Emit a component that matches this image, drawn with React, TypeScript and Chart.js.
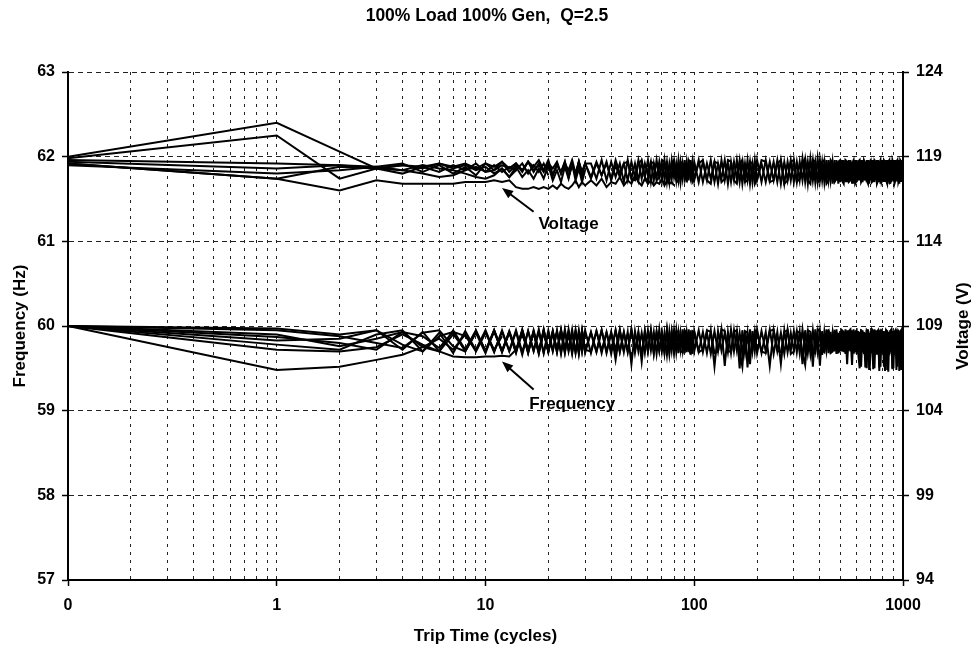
import React, { useEffect, useRef } from 'react';
import { Chart, registerables } from 'chart.js';

Chart.register(...registerables);

// ---------- text ----------
const chartTitle = '100% Load 100% Gen,  Q=2.5';
const xAxisTitle = 'Trip Time (cycles)';
const yLeftTitle = 'Frequency (Hz)';
const yRightTitle = 'Voltage (V)';

// ---------- axes / ticks ----------
const xMajorTicks = [0.1, 1, 10, 100, 1000];
const xTickLabels = ['0', '1', '10', '100', '1000'];
const xMinorMultipliers = [2, 3, 4, 5, 6, 7, 8, 9];
const freqRange = [57, 63];
const freqStep = 1;
const voltRange = [94, 124];
const voltStep = 5;

// ---------- sample times (cycles) ----------
const cycles = [
  0.1,
  1, 2, 3, 4, 5, 6, 7, 8, 9, 10, 11, 12, 13, 14, 15, 16, 17, 18, 19, 20,
  21, 22, 23, 24, 25, 26, 27, 28, 29, 30,
  32, 34, 36, 38, 40, 42, 44, 46, 48, 50, 52, 54, 56, 58, 60, 62, 64, 66, 68, 70,
  72, 74, 76, 78, 80, 82, 84, 86, 88, 90, 92, 94, 96, 98, 100,
  105, 110, 115, 120, 125, 130, 135, 140, 145, 150, 155, 160, 165, 170, 175, 180, 185, 190, 195, 200,
  210, 220, 230, 240, 250, 260, 270, 280, 290, 300,
  310, 320, 330, 340, 350, 360, 370, 380, 390, 400,
  410, 420, 430, 440, 450, 460, 470, 480, 490, 500,
  510, 520, 530, 540, 550, 560, 570, 580, 590, 600,
  610, 620, 630, 640, 650, 660, 670, 680, 690, 700,
  710, 720, 730, 740, 750, 760, 770, 780, 790, 800,
  810, 820, 830, 840, 850, 860, 870, 880, 890, 900,
  910, 920, 930, 940, 950, 960, 970, 980, 990, 1000,
];

// ---------- frequency runs (Hz) ----------
const freqRun1 = [
  60.0,
  59.97, 59.90, 59.95, 59.72, 59.93, 59.70, 59.95, 59.72, 59.94, 59.70,
  59.95, 59.71, 59.93, 59.68, 59.96, 59.72, 59.92, 59.67, 59.95, 59.70,
  59.93, 59.69, 59.96, 59.73, 59.90, 59.67, 59.95, 59.70, 59.94, 59.68,
  59.93, 59.70, 59.95, 59.68, 59.92, 59.72, 59.96, 59.69, 59.93, 59.55,
  59.94, 59.70, 59.92, 59.68, 59.95, 59.71, 59.93, 59.67, 59.96, 59.70,
  59.92, 59.66, 59.94, 59.71, 59.95, 59.69, 59.93, 59.72, 59.96, 59.68,
  59.92, 59.70, 59.95, 59.67, 59.94,
  59.70, 59.93, 59.68, 59.95, 59.52, 59.94, 59.71, 59.92, 59.69, 59.96,
  59.70, 59.93, 59.50, 59.95, 59.68, 59.92, 59.55, 59.94, 59.70, 59.96,
  59.68, 59.93, 59.53, 59.95, 59.70, 59.92, 59.67, 59.96, 59.71, 59.94,
  59.69, 59.93, 59.55, 59.95, 59.68, 59.92, 59.52, 59.96, 59.70, 59.94,
  59.66, 59.93, 59.71, 59.95, 59.69, 59.92, 59.70, 59.96, 59.68, 59.94,
  59.70, 59.93, 59.67, 59.95, 59.71, 59.92, 59.54, 59.96, 59.69, 59.94,
  59.70, 59.93, 59.52, 59.95, 59.68, 59.92, 59.50, 59.96, 59.48, 59.94,
  59.68, 59.93, 59.50, 59.95, 59.66, 59.92, 59.47, 59.96, 59.69, 59.94,
  59.52, 59.93, 59.67, 59.95, 59.46, 59.92, 59.70, 59.96, 59.50, 59.94,
  59.66, 59.93, 59.48, 59.95, 59.68, 59.92, 59.52, 59.96, 59.49, 59.93,
];
const freqRun2 = [
  60.0,
  59.78, 59.72, 59.90, 59.95, 59.70, 59.92, 59.68, 59.94, 59.71, 59.93,
  59.69, 59.95, 59.70, 59.93, 59.66, 59.94, 59.71, 59.96, 59.68, 59.92,
  59.70, 59.95, 59.67, 59.93, 59.72, 59.96, 59.69, 59.92, 59.70, 59.95,
  59.68, 59.94, 59.71, 59.92, 59.67, 59.95, 59.70, 59.93, 59.69, 59.96,
  59.72, 59.92, 59.66, 59.94, 59.70, 59.95, 59.68, 59.93, 59.71, 59.92,
  59.69, 59.96, 59.67, 59.93, 59.70, 59.95, 59.68, 59.92, 59.71, 59.94,
  59.69, 59.96, 59.66, 59.93, 59.70,
  59.95, 59.69, 59.92, 59.67, 59.94, 59.70, 59.96, 59.53, 59.93, 59.68,
  59.95, 59.71, 59.92, 59.67, 59.94, 59.51, 59.96, 59.70, 59.93, 59.68,
  59.94, 59.70, 59.96, 59.67, 59.93, 59.55, 59.95, 59.69, 59.92, 59.71,
  59.94, 59.68, 59.96, 59.70, 59.93, 59.67, 59.95, 59.71, 59.92, 59.53,
  59.94, 59.69, 59.96, 59.68, 59.93, 59.70, 59.95, 59.67, 59.92, 59.71,
  59.94, 59.69, 59.96, 59.55, 59.93, 59.70, 59.95, 59.68, 59.92, 59.67,
  59.94, 59.70, 59.96, 59.69, 59.93, 59.51, 59.95, 59.68, 59.92, 59.70,
  59.94, 59.49, 59.96, 59.67, 59.93, 59.70, 59.95, 59.52, 59.92, 59.68,
  59.94, 59.69, 59.96, 59.48, 59.93, 59.70, 59.95, 59.67, 59.92, 59.50,
  59.94, 59.68, 59.96, 59.70, 59.93, 59.47, 59.95, 59.69, 59.92, 59.68,
];
const freqRun3 = [
  60.0,
  59.87, 59.80, 59.72, 59.93, 59.75, 59.70, 59.90, 59.72, 59.95, 59.70,
  59.93, 59.70, 59.94, 59.72, 59.95, 59.68, 59.93, 59.70, 59.96, 59.69,
  59.92, 59.71, 59.95, 59.68, 59.93, 59.70, 59.94, 59.67, 59.95, 59.72,
  59.70, 59.94, 59.68, 59.93, 59.71, 59.95, 59.69, 59.92, 59.70, 59.96,
  59.68, 59.93, 59.58, 59.94, 59.70, 59.95, 59.67, 59.93, 59.71, 59.92,
  59.68, 59.95, 59.70, 59.93, 59.69,
  59.93, 59.94, 59.70, 59.69, 59.95, 59.92, 59.71, 59.68, 59.94, 59.93,
  59.69, 59.72, 59.95, 59.93, 59.68, 59.70, 59.96, 59.94, 59.71, 59.69,
  59.93, 59.95, 59.70, 59.52, 59.94, 59.92, 59.68, 59.71, 59.95, 59.93,
  59.70, 59.68, 59.94, 59.96, 59.71, 59.69, 59.93, 59.95, 59.67, 59.70,
  59.94, 59.92, 59.69, 59.54, 59.95, 59.93, 59.70, 59.68, 59.96, 59.94,
  59.71, 59.69, 59.93, 59.95, 59.68, 59.70, 59.94, 59.92, 59.69, 59.71,
  59.95, 59.93, 59.70, 59.68, 59.94, 59.96, 59.71, 59.69, 59.93, 59.95,
  59.68, 59.50, 59.94, 59.92, 59.69, 59.71, 59.95, 59.93, 59.48, 59.68,
  59.96, 59.94, 59.70, 59.69, 59.93, 59.95, 59.51, 59.70, 59.94, 59.92,
  59.69, 59.47, 59.95, 59.93, 59.70, 59.68, 59.94, 59.96, 59.49, 59.69,
  59.93, 59.95, 59.68, 59.52, 59.94, 59.92, 59.70, 59.48, 59.95, 59.93,
];
const freqRun4 = [
  60.0,
  59.83, 59.85, 59.95, 59.78, 59.70, 59.88, 59.93, 59.70, 59.92, 59.68,
  59.95, 59.70, 59.92, 59.69, 59.94, 59.71, 59.93, 59.68, 59.95, 59.70,
  59.94, 59.72, 59.92, 59.69, 59.96, 59.70, 59.93, 59.68, 59.94, 59.71,
  59.92, 59.69, 59.95, 59.70, 59.93, 59.60, 59.94, 59.70,
];
const freqRun5 = [
  60.0,
  59.48, 59.52, 59.60, 59.66, 59.75, 59.85, 59.72, 59.90, 59.70, 59.92,
  59.72, 59.88,
];
const freqRun6 = [
  60.0,
  59.72, 59.70, 59.75, 59.90, 59.78, 59.70, 59.64, 59.63, 59.63, 59.64,
  59.64, 59.65, 59.64, 59.72, 59.90, 59.70, 59.92, 59.69, 59.93, 59.70,
];
const freqRun7 = [
  60.0,
  59.95, 59.88, 59.80, 59.74, 59.92, 59.95, 59.76, 59.70, 59.93, 59.71,
  59.95, 59.69, 59.93, 59.70, 59.94, 59.68, 59.95, 59.71, 59.92, 59.70,
  59.94, 59.69, 59.95, 59.70,
];
const freqRun8 = [
  60.0,
  59.90, 59.76, 59.85, 59.93, 59.88, 59.74, 59.93, 59.88, 59.72, 59.95,
  59.70, 59.93, 59.71, 59.95, 59.69, 59.94, 59.70, 59.93, 59.68, 59.95,
  59.71, 59.93, 59.69, 59.96, 59.70, 59.92, 59.68, 59.95, 59.70, 59.93,
];

// ---------- voltage runs (V) ----------
const voltRun1 = [
  119.0,
  121.0, 119.3, 118.3, 118.5, 118.3, 118.6, 118.4, 118.6, 118.3, 118.6,
  118.4, 118.7, 118.3, 118.6, 118.2, 118.7, 118.4, 118.8, 118.2, 118.6,
  118.3, 118.7, 118.0, 118.6, 118.2, 118.8, 118.0, 118.7, 118.1, 118.6,
  117.8, 118.7, 117.9, 118.6, 117.7, 118.8, 118.0, 118.6, 117.6, 118.7,
  117.8, 118.8, 117.7, 118.6, 117.9, 118.7, 117.6, 118.8, 117.8, 118.6,
  117.7, 118.7, 117.5, 118.8, 117.8, 118.6, 117.6, 118.7, 117.7, 118.8,
  117.5, 118.6, 117.8, 118.7, 117.6,
  118.8, 117.5, 118.6, 117.7, 118.7, 117.4, 118.8, 117.6, 118.6, 117.5,
  118.7, 117.7, 118.8, 117.4, 118.6, 117.6, 118.7, 117.5, 118.8, 117.6,
  118.6, 117.5, 118.7, 117.6, 118.8, 117.4, 118.7, 117.6, 118.8, 117.5,
  118.7, 117.6, 118.9, 117.5, 118.7, 117.7, 118.8, 117.5, 118.9, 117.6,
  118.7, 117.5, 118.8, 117.6, 118.7, 117.4, 118.8, 117.6, 118.7, 117.5,
  118.8, 117.6, 118.7, 117.5, 118.8, 117.6, 118.7, 117.4, 118.8, 117.5,
  118.7, 117.6, 118.8, 117.5, 118.7, 117.6, 118.8, 117.4, 118.7, 117.6,
  118.8, 117.5, 118.7, 117.6, 118.8, 117.5, 118.7, 117.4, 118.8, 117.6,
  118.7, 117.5, 118.8, 117.6, 118.7, 117.4, 118.8, 117.5, 118.7, 117.6,
  118.8, 117.5, 118.7, 117.6, 118.8, 117.4, 118.7, 117.5, 118.8, 117.6,
];
const voltRun2 = [
  118.9,
  120.25, 117.7, 118.3, 118.0, 118.4, 118.1, 118.5, 118.2, 118.6, 118.1,
  118.2, 118.5, 118.3, 118.6, 118.1, 118.7, 118.2, 118.5, 118.1, 118.7,
  117.9, 118.6, 118.0, 118.7, 117.8, 118.5, 117.9, 118.7, 117.8, 118.6,
  118.6, 117.7, 118.8, 117.6, 118.7, 117.8, 118.6, 117.5, 118.8, 117.7,
  118.6, 117.6, 118.7, 117.8, 118.8, 117.5, 118.6, 117.7, 118.7, 117.6,
  118.8, 117.5, 118.6, 117.7, 118.7, 117.6, 118.8, 117.5, 118.6, 117.7,
  118.7, 117.6, 118.8, 117.5, 118.7,
  117.5, 118.7, 117.6, 118.8, 117.5, 118.6, 117.7, 118.8, 117.4, 118.7,
  117.6, 118.8, 117.5, 118.7, 117.6, 118.8, 117.4, 118.6, 117.6, 118.8,
  117.5, 118.8, 117.6, 118.7, 117.5, 118.8, 117.4, 118.7, 117.6, 118.8,
  117.5, 118.7, 117.6, 118.8, 117.4, 118.9, 117.6, 118.7, 117.5, 118.8,
  117.6, 118.7, 117.5, 118.8, 117.6, 118.7, 117.5, 118.8, 117.4, 118.7,
  117.6, 118.8, 117.5, 118.7, 117.6, 118.8, 117.4, 118.7, 117.5, 118.8,
  117.6, 118.7, 117.5, 118.8, 117.6, 118.7, 117.5, 118.8, 117.4, 118.7,
  117.6, 118.8, 117.5, 118.7, 117.6, 118.8, 117.5, 118.7, 117.6, 118.8,
  117.5, 118.7, 117.6, 118.8, 117.5, 118.7, 117.4, 118.8, 117.6, 118.7,
  117.5, 118.8, 117.6, 118.7, 117.5, 118.8, 117.6, 118.7, 117.5, 118.8,
];
const voltRun3 = [
  118.6,
  117.7, 117.0, 117.6, 117.4, 117.4, 117.4, 117.4, 117.5, 117.5, 117.5,
  117.6, 117.5, 117.6, 117.2, 117.1, 117.1, 117.2, 117.1, 117.2, 117.1,
  117.3, 117.1, 117.4, 117.2, 117.1, 117.3, 117.6, 117.2, 117.5, 117.3,
  117.6, 117.3, 117.7, 117.2, 117.5, 117.4, 117.8, 117.3, 117.6, 117.4,
  117.9, 117.5, 117.3, 117.7, 117.4, 117.6, 117.3, 117.5, 117.4, 117.7,
  117.3, 117.6, 117.4, 117.5, 117.3,
];
const voltRun4 = [
  118.8,
  118.6, 118.5, 118.4, 118.6, 118.1, 118.5, 118.0, 118.4, 117.9, 118.6,
  118.2, 118.7, 118.1, 118.5, 118.2, 118.7, 118.1, 118.6, 118.2, 118.8,
  117.9, 118.5, 118.1, 118.7, 117.8, 118.6, 117.9, 118.7, 118.0, 118.6,
  117.7, 118.6, 117.9, 118.7, 117.6, 118.5, 117.8, 118.6,
  118.7, 117.7, 117.6, 118.6, 118.8, 117.8, 117.5, 118.7, 118.6, 117.6,
  117.8, 118.8, 118.7, 117.5, 117.7, 118.6, 118.8, 117.6, 117.5, 118.7,
  118.6, 117.8, 117.6, 118.8, 118.7, 117.5, 117.7,
  118.6, 118.8, 117.6, 117.4, 118.7, 118.6, 117.5, 117.7, 118.8, 118.7,
  117.6, 117.4, 118.6, 118.8, 117.5, 117.6, 118.7, 118.6, 117.4, 117.7,
  118.8, 118.7, 117.5, 117.6, 118.6, 118.8, 117.4, 117.6, 118.7, 118.8,
  117.5, 117.7, 118.6, 118.9, 117.6, 117.4, 118.8, 118.7, 117.5, 117.6,
  118.7, 118.8, 117.4, 117.6, 118.8, 118.6, 117.5, 117.7, 118.7, 118.8,
  117.6, 117.4, 118.8, 118.7, 117.5, 117.6, 118.6, 118.8, 117.4, 117.6,
  118.7, 118.8, 117.5, 117.7, 118.8, 118.6, 117.6, 117.4, 118.7, 118.8,
  117.5, 117.6, 118.8, 118.7, 117.4, 117.6, 118.6, 118.8, 117.5, 117.7,
  118.8, 118.7, 117.6, 117.4, 118.7, 118.8, 117.5, 117.6, 118.8, 118.6,
  117.4, 117.6, 118.7, 118.8, 117.5, 117.7, 118.8, 118.7, 117.6, 117.5,
];
const voltRun5 = [
  118.7,
  118.3, 118.5, 118.3, 118.2, 118.0, 117.8, 117.9, 118.2, 118.4, 118.1,
  118.5, 118.1, 118.4, 118.2, 118.6, 118.0, 118.5, 118.1, 118.6, 117.9,
];
const voltRun6 = [
  118.5,
  118.0, 118.2, 118.4, 118.2, 118.5, 118.3, 118.2, 118.0, 117.8, 117.7,
  117.9, 118.3, 117.8, 118.4, 117.8, 118.2, 117.7, 118.3, 117.7, 118.5,
  117.6, 118.2, 117.5, 118.4, 117.7, 118.6, 117.6, 118.3, 117.5, 118.2,
];
const voltRun7 = [
  118.6,
  117.7, 118.4, 118.3, 118.5, 118.4, 118.6, 118.3, 118.5, 118.2, 118.4,
  118.0, 118.3, 117.8, 118.2,
];

const freqRuns = [freqRun1, freqRun2, freqRun3, freqRun4, freqRun5, freqRun6, freqRun7, freqRun8];
const voltRuns = [voltRun1, voltRun2, voltRun3, voltRun4, voltRun5, voltRun6, voltRun7];

// ---------- annotations ----------
const noteTexts = ['Voltage', 'Frequency'];
const noteAxes = ['y2', 'y'];
const noteX = [25, 26];
const noteY = [115.0, 59.08];
const arrowFromX = [17, 17];
const arrowFromY = [115.75, 59.25];
const arrowToX = [12, 12];
const arrowToY = [117.15, 59.58];

const FONT = '"Liberation Sans", Arial, Helvetica, sans-serif';

const isMajorX = (v: number) => xMajorTicks.some((t) => Math.abs(t - v) < 1e-9);

const xGridValues: number[] = (() => {
  const out: number[] = [];
  for (let d = 0; d < xMajorTicks.length; d++) {
    out.push(xMajorTicks[d]);
    if (d < xMajorTicks.length - 1) {
      for (const m of xMinorMultipliers) out.push(Number((m * xMajorTicks[d]).toPrecision(6)));
    }
  }
  return out;
})();

const annotationPlugin = {
  id: 'tripAnnotations',
  afterDatasetsDraw(chart: any) {
    const ctx = chart.ctx as CanvasRenderingContext2D;
    const xs = chart.scales.x;
    ctx.save();
    ctx.fillStyle = '#000';
    ctx.strokeStyle = '#000';
    for (let i = 0; i < noteTexts.length; i++) {
      const ys = chart.scales[noteAxes[i]];
      const x1 = xs.getPixelForValue(arrowFromX[i]);
      const y1 = ys.getPixelForValue(arrowFromY[i]);
      const x2 = xs.getPixelForValue(arrowToX[i]);
      const y2 = ys.getPixelForValue(arrowToY[i]);
      const ang = Math.atan2(y2 - y1, x2 - x1);
      const head = 12;
      ctx.lineWidth = 2;
      ctx.beginPath();
      ctx.moveTo(x1, y1);
      ctx.lineTo(x2 - head * 0.8 * Math.cos(ang), y2 - head * 0.8 * Math.sin(ang));
      ctx.stroke();
      ctx.beginPath();
      ctx.moveTo(x2, y2);
      ctx.lineTo(x2 - head * Math.cos(ang - 0.38), y2 - head * Math.sin(ang - 0.38));
      ctx.lineTo(x2 - head * Math.cos(ang + 0.38), y2 - head * Math.sin(ang + 0.38));
      ctx.closePath();
      ctx.fill();
      ctx.font = `bold 17px ${FONT}`;
      ctx.textAlign = 'center';
      ctx.textBaseline = 'middle';
      ctx.fillText(noteTexts[i], xs.getPixelForValue(noteX[i]), ys.getPixelForValue(noteY[i]));
    }
    // right axis title, reading bottom-to-top like the left one
    const area = chart.chartArea;
    ctx.translate(chart.width - 10.2, (area.top + area.bottom) / 2);
    ctx.rotate(-Math.PI / 2);
    ctx.font = `bold 17px ${FONT}`;
    ctx.textAlign = 'center';
    ctx.textBaseline = 'middle';
    ctx.fillText(yRightTitle, 0, 0);
    ctx.restore();
  },
};

export default function App() {
  const canvasRef = useRef<HTMLCanvasElement | null>(null);

  useEffect(() => {
    const canvas = canvasRef.current;
    if (!canvas) return;

    const toPoints = (vals: number[]) => vals.map((v, i) => ({ x: cycles[i], y: v }));
    const lineStyle = {
      borderColor: '#000',
      backgroundColor: '#000',
      borderWidth: 2,
      pointRadius: 0,
      pointHoverRadius: 0,
      tension: 0,
      fill: false,
    };
    const datasets: any[] = [
      ...freqRuns.map((r, i) => ({ label: `F${i + 1}`, data: toPoints(r), yAxisID: 'y', ...lineStyle })),
      ...voltRuns.map((r, i) => ({ label: `V${i + 1}`, data: toPoints(r), yAxisID: 'y2', ...lineStyle })),
    ];

    const tickFont = { family: FONT, size: 16, weight: 'bold' as const };
    const titleFont = { family: FONT, size: 17, weight: 'bold' as const };

    const chart = new Chart(canvas, {
      type: 'line',
      data: { datasets },
      options: {
        responsive: false,
        animation: false,
        events: [],
        layout: { padding: 0 },
        plugins: {
          legend: { display: false },
          tooltip: { enabled: false },
          title: {
            display: true,
            text: chartTitle,
            color: '#000',
            font: { family: FONT, size: 17.5, weight: 'bold' },
            padding: { top: 6, bottom: 45 },
          },
        },
        scales: {
          x: {
            type: 'logarithmic',
            min: xMajorTicks[0],
            max: xMajorTicks[xMajorTicks.length - 1],
            afterBuildTicks: (s: any) => {
              s.ticks = xGridValues.map((v) => ({ value: v, major: isMajorX(v) }));
            },
            afterFit: (s: any) => {
              s.height = 69;
            },
            ticks: {
              autoSkip: false,
              maxRotation: 0,
              minRotation: 0,
              color: '#000',
              font: tickFont,
              padding: 10,
              callback: (v: any) => {
                const idx = xMajorTicks.findIndex((t) => Math.abs(t - Number(v)) < 1e-9);
                return idx >= 0 ? xTickLabels[idx] : '';
              },
            },
            grid: {
              color: '#222',
              lineWidth: 1,
              drawTicks: true,
              tickLength: 6,
              tickColor: (c: any) => (c.tick && isMajorX(c.tick.value) ? '#000' : 'rgba(0,0,0,0)'),
              tickWidth: 1.5,
            },
            border: { display: true, color: '#000', width: 2, dash: [3, 5] },
            title: {
              display: true,
              text: xAxisTitle,
              color: '#000',
              font: titleFont,
              padding: { top: 0, bottom: 2.8 },
            },
          },
          y: {
            position: 'left',
            min: freqRange[0],
            max: freqRange[1],
            afterFit: (s: any) => {
              s.width = 68;
            },
            ticks: { stepSize: freqStep, color: '#000', font: tickFont, padding: 7 },
            grid: { color: '#222', lineWidth: 1, tickLength: 6, tickColor: '#000', tickWidth: 1.5 },
            border: { display: true, color: '#000', width: 2, dash: [5, 4] },
            title: {
              display: true,
              text: yLeftTitle,
              color: '#000',
              font: titleFont,
              padding: { top: 9.8, bottom: 0 },
            },
          },
          y2: {
            position: 'right',
            min: voltRange[0],
            max: voltRange[1],
            afterFit: (s: any) => {
              s.width = 71;
            },
            ticks: { stepSize: voltStep, color: '#000', font: tickFont, padding: 7 },
            grid: { drawOnChartArea: false, tickLength: 6, tickColor: '#000', tickWidth: 1.5 },
            border: { display: true, color: '#000', width: 2 },
            title: { display: false },
          },
        },
      } as any,
      plugins: [annotationPlugin],
    });

    return () => chart.destroy();
  }, []);

  return (
    <div style={{ position: 'fixed', left: 0, top: 0, width: 974, height: 649, background: '#fff' }}>
      <canvas ref={canvasRef} width={974} height={649} style={{ display: 'block', width: 974, height: 649 }} />
    </div>
  );
}
